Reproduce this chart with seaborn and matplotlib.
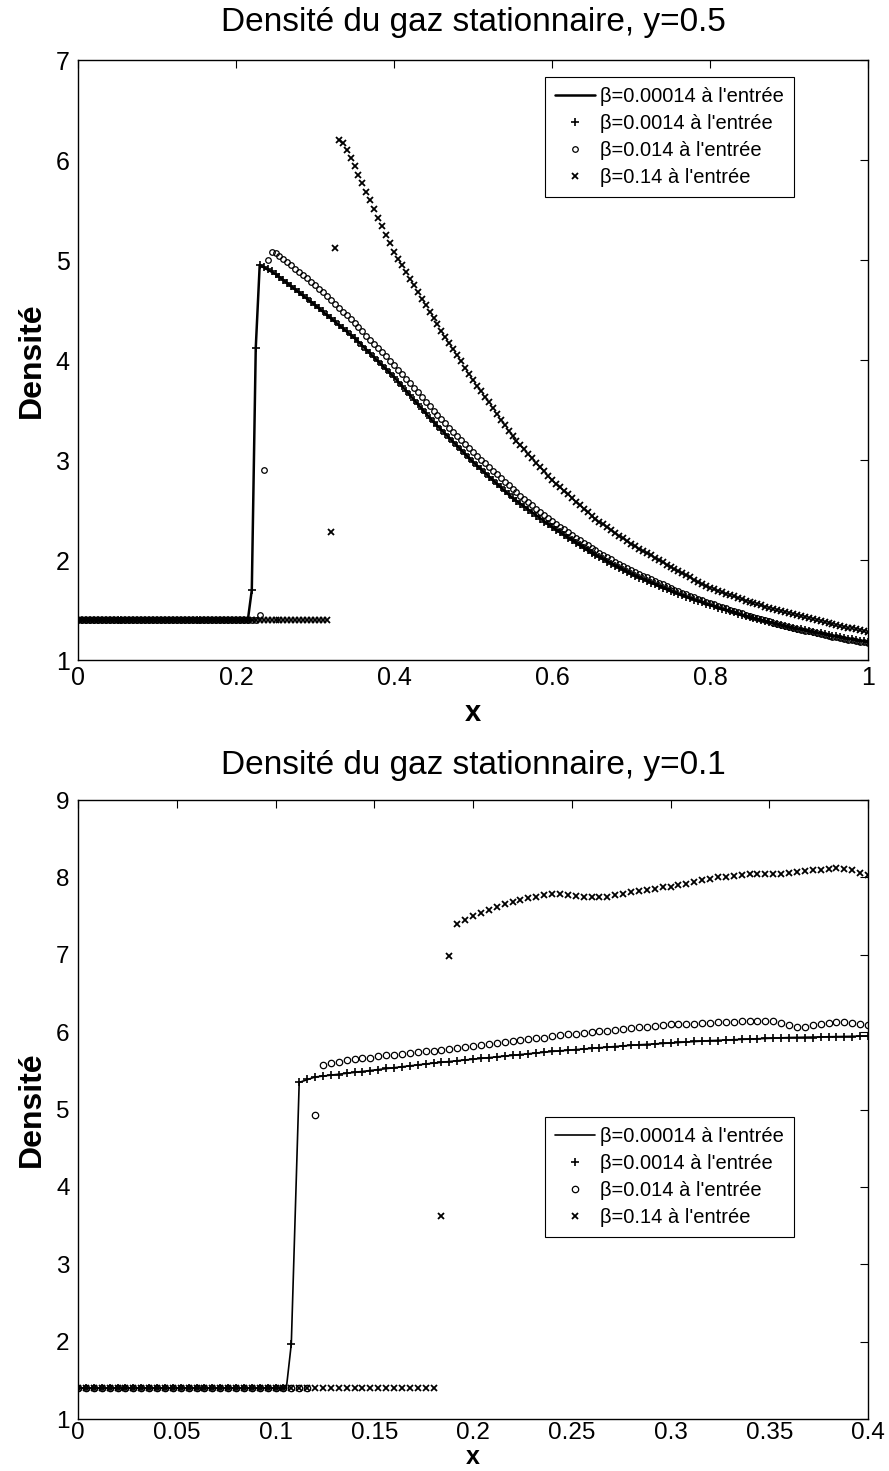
import numpy as np
import pandas as pd
import matplotlib
matplotlib.use("Agg")
import matplotlib.pyplot as plt
import seaborn as sns

# ---------------- data : top panel (y = 0.5) ----------------
DX_TOP = 0.005
x_ticks_top = [0, 0.2, 0.4, 0.6, 0.8, 1.0]
x_ticklabels_top = ["0", "0.2", "0.4", "0.6", "0.8", "1"]
y_ticks_top = [1, 2, 3, 4, 5, 6, 7]

line_top_x = [0.0, 0.215, 0.220, 0.225, 0.230, 0.25, 0.30, 0.35, 0.40, 0.45, 0.50,
              0.55, 0.60, 0.65, 0.70, 0.75, 0.80, 0.85, 0.90, 0.95, 1.00]
line_top_y = [1.40, 1.40, 1.70, 4.12, 4.95, 4.86, 4.55, 4.22, 3.83, 3.38, 2.98,
              2.62, 2.33, 2.07, 1.86, 1.69, 1.55, 1.43, 1.33, 1.25, 1.18]

plus_top = [1.40] * 44 + [1.70, 4.12] + [
    4.95, 4.93, 4.91, 4.89, 4.86, 4.83, 4.80, 4.77, 4.74, 4.71,
    4.68, 4.65, 4.62, 4.58, 4.55, 4.52, 4.49, 4.45, 4.42, 4.39,
    4.35, 4.32, 4.29, 4.25, 4.22, 4.18, 4.14, 4.10, 4.07, 4.03,
    3.99, 3.95, 3.91, 3.87, 3.83, 3.78, 3.74, 3.69, 3.65, 3.60,
    3.56, 3.51, 3.47, 3.42, 3.38, 3.34, 3.30, 3.26, 3.22, 3.18,
    3.14, 3.10, 3.06, 3.02, 2.98, 2.94, 2.91, 2.87, 2.83, 2.80,
    2.76, 2.73, 2.69, 2.66, 2.62, 2.59, 2.56, 2.53, 2.50, 2.47,
    2.44, 2.41, 2.38, 2.36, 2.33, 2.30, 2.28, 2.25, 2.22, 2.20,
    2.17, 2.15, 2.12, 2.10, 2.07, 2.05, 2.03, 2.01, 1.98, 1.96,
    1.94, 1.92, 1.90, 1.88, 1.86, 1.84, 1.82, 1.81, 1.79, 1.77,
    1.76, 1.74, 1.72, 1.71, 1.69, 1.68, 1.66, 1.65, 1.63, 1.62,
    1.60, 1.59, 1.58, 1.56, 1.55, 1.54, 1.52, 1.51, 1.50, 1.49,
    1.48, 1.46, 1.45, 1.44, 1.43, 1.42, 1.41, 1.40, 1.39, 1.38,
    1.37, 1.36, 1.35, 1.34, 1.33, 1.32, 1.31, 1.31, 1.30, 1.29,
    1.28, 1.27, 1.27, 1.26, 1.25, 1.24, 1.24, 1.23, 1.22, 1.21,
    1.21, 1.20, 1.19, 1.19, 1.18]

circ_top = [1.40] * 46 + [1.45, 2.90, 5.00, 5.08, 5.07] + [
    5.04, 5.01, 4.98, 4.95, 4.91, 4.88, 4.85, 4.82, 4.78, 4.75,
    4.71, 4.68, 4.64, 4.60, 4.56, 4.52, 4.48, 4.45, 4.41, 4.37,
    4.33, 4.29, 4.24, 4.20, 4.16, 4.12, 4.08, 4.04, 3.99, 3.95,
    3.90, 3.86, 3.81, 3.77, 3.72, 3.68, 3.63, 3.58, 3.54, 3.49,
    3.45, 3.41, 3.37, 3.32, 3.28, 3.24, 3.20, 3.16, 3.12, 3.08,
    3.04, 3.00, 2.97, 2.93, 2.89, 2.86, 2.82, 2.78, 2.75, 2.71,
    2.68, 2.64, 2.61, 2.58, 2.55, 2.51, 2.48, 2.45, 2.42, 2.39,
    2.36, 2.33, 2.31, 2.28, 2.25, 2.22, 2.20, 2.17, 2.15, 2.12,
    2.10, 2.07, 2.05, 2.03, 2.01, 1.98, 1.96, 1.94, 1.92, 1.90,
    1.88, 1.86, 1.84, 1.83, 1.81, 1.79, 1.77, 1.76, 1.74, 1.72,
    1.70, 1.69, 1.67, 1.66, 1.64, 1.63, 1.61, 1.60, 1.58, 1.57,
    1.56, 1.54, 1.53, 1.52, 1.50, 1.49, 1.48, 1.47, 1.45, 1.44,
    1.43, 1.42, 1.41, 1.40, 1.39, 1.37, 1.36, 1.35, 1.34, 1.33,
    1.32, 1.31, 1.30, 1.29, 1.29, 1.28, 1.27, 1.26, 1.25, 1.24,
    1.23, 1.23, 1.22, 1.21, 1.20, 1.20, 1.19, 1.18, 1.18, 1.17]

cross_top = [1.40] * 64 + [2.28, 5.12, 6.20, 6.17] + [
    6.10, 6.02, 5.94, 5.85, 5.77, 5.68, 5.60, 5.51, 5.42, 5.34,
    5.25, 5.17, 5.08, 5.01, 4.95, 4.88, 4.81, 4.75, 4.68, 4.61,
    4.55, 4.48, 4.42, 4.36, 4.29, 4.23, 4.17, 4.11, 4.05, 3.99,
    3.92, 3.86, 3.80, 3.74, 3.69, 3.63, 3.58, 3.52, 3.46, 3.40,
    3.35, 3.29, 3.24, 3.19, 3.15, 3.11, 3.06, 3.02, 2.97, 2.93,
    2.89, 2.84, 2.80, 2.76, 2.73, 2.69, 2.66, 2.62, 2.58, 2.55,
    2.51, 2.48, 2.44, 2.41, 2.38, 2.36, 2.33, 2.30, 2.27, 2.24,
    2.22, 2.19, 2.16, 2.14, 2.11, 2.09, 2.07, 2.05, 2.02, 2.00,
    1.98, 1.95, 1.93, 1.91, 1.89, 1.87, 1.85, 1.83, 1.80, 1.78,
    1.76, 1.74, 1.72, 1.71, 1.69, 1.68, 1.66, 1.65, 1.64, 1.62,
    1.61, 1.59, 1.58, 1.57, 1.56, 1.55, 1.53, 1.52, 1.51, 1.50,
    1.49, 1.48, 1.47, 1.46, 1.45, 1.44, 1.43, 1.42, 1.41, 1.40,
    1.39, 1.38, 1.37, 1.36, 1.35, 1.34, 1.33, 1.32, 1.32, 1.31,
    1.30, 1.29, 1.28]

# ---------------- data : bottom panel (y = 0.1) ----------------
DX_BOT = 0.004
x_ticks_bot = [0, 0.05, 0.1, 0.15, 0.2, 0.25, 0.3, 0.35, 0.4]
x_ticklabels_bot = ["0", "0.05", "0.1", "0.15", "0.2", "0.25", "0.3", "0.35", "0.4"]
y_ticks_bot = [1, 2, 3, 4, 5, 6, 7, 8, 9]

line_bot_x = [0.0, 0.1055, 0.108, 0.112, 0.12, 0.14, 0.16, 0.18, 0.20, 0.24,
              0.28, 0.32, 0.36, 0.40]
line_bot_y = [1.40, 1.40, 1.97, 5.35, 5.42, 5.48, 5.54, 5.60, 5.65, 5.75,
              5.83, 5.89, 5.93, 5.95]

plus_bot = [1.40] * 27 + [1.97, 5.35] + [
    5.39, 5.42, 5.43, 5.44, 5.45, 5.47, 5.48, 5.49, 5.50, 5.51,
    5.53, 5.54, 5.55, 5.56, 5.57, 5.59, 5.60, 5.61, 5.62, 5.63,
    5.64, 5.65, 5.66, 5.67, 5.68, 5.69, 5.70, 5.71, 5.72, 5.73,
    5.74, 5.75, 5.76, 5.77, 5.77, 5.78, 5.79, 5.80, 5.81, 5.81,
    5.82, 5.83, 5.84, 5.84, 5.85, 5.86, 5.86, 5.87, 5.87, 5.88,
    5.88, 5.89, 5.89, 5.90, 5.90, 5.91, 5.91, 5.91, 5.92, 5.92,
    5.92, 5.93, 5.93, 5.93, 5.93, 5.94, 5.94, 5.94, 5.94, 5.94,
    5.95, 5.95]

circ_bot = [1.40] * 30 + [4.93, 5.57] + [
    5.60, 5.62, 5.64, 5.65, 5.66, 5.67, 5.69, 5.70, 5.71, 5.72,
    5.73, 5.74, 5.75, 5.76, 5.77, 5.78, 5.80, 5.81, 5.82, 5.83,
    5.85, 5.86, 5.87, 5.88, 5.90, 5.91, 5.92, 5.93, 5.95, 5.96,
    5.97, 5.98, 5.99, 6.00, 6.01, 6.02, 6.03, 6.04, 6.05, 6.06,
    6.07, 6.08, 6.09, 6.10, 6.10, 6.11, 6.11, 6.12, 6.12, 6.13,
    6.13, 6.13, 6.14, 6.14, 6.15, 6.15, 6.14, 6.12, 6.09, 6.07,
    6.07, 6.09, 6.11, 6.12, 6.13, 6.13, 6.12, 6.10, 6.09]

cross_bot = [1.40] * 46 + [3.62, 6.98] + [
    7.40, 7.45, 7.50, 7.54, 7.58, 7.62, 7.65, 7.68, 7.71, 7.73,
    7.75, 7.77, 7.78, 7.78, 7.77, 7.76, 7.74, 7.74, 7.74, 7.75,
    7.77, 7.79, 7.81, 7.83, 7.84, 7.85, 7.87, 7.88, 7.90, 7.92,
    7.94, 7.96, 7.98, 8.00, 8.01, 8.02, 8.03, 8.04, 8.04, 8.05,
    8.05, 8.05, 8.06, 8.07, 8.08, 8.09, 8.10, 8.11, 8.12, 8.11,
    8.09, 8.06, 8.03]

labels = ["β=0.00014 à l'entrée", "β=0.0014 à l'entrée",
          "β=0.014 à l'entrée", "β=0.14 à l'entrée"]
titles = ["Densité du gaz stationnaire, y=0.5", "Densité du gaz stationnaire, y=0.1"]
xlabel = "x"
ylabel = "Densité"

# ---------------- style ----------------
sns.set_theme(style="white")
plt.rcParams["font.family"] = ["Liberation Sans", "DejaVu Sans"]
plt.rcParams["axes.edgecolor"] = "black"
plt.rcParams["axes.linewidth"] = 1.0
plt.rcParams["xtick.color"] = "black"
plt.rcParams["ytick.color"] = "black"
plt.rcParams["text.color"] = "black"
plt.rcParams["axes.labelcolor"] = "black"

W, H = 889, 1471
fig = plt.figure(figsize=(W / 100, H / 100), dpi=100)
fig.patch.set_facecolor("white")

# axes boxes in pixels: (left, top, right, bottom)
boxes = [(78, 60, 868, 660), (78, 800, 868, 1419)]


def series_df(vals, dx):
    return pd.DataFrame({"x": np.arange(len(vals)) * dx, "d": vals})


def draw_panel(ax, box, lx, ly, plus, circ, cross, dx, xlim, ylim, xt, xtl, yt,
               title, title_y, leg_xy, lw, msz, tick_size, xpad, xl_size):
    l, t, r, b = box
    hpx = b - t
    sns.lineplot(x=lx, y=ly, ax=ax, color="black", linewidth=lw,
                 label=labels[0], errorbar=None)
    d = series_df(plus, dx)
    sns.lineplot(data=d, x="x", y="d", ax=ax, linestyle="none", marker="+",
                 markersize=msz + 1.2, markeredgewidth=1.2, color="black",
                 markeredgecolor="black", label=labels[1], errorbar=None)
    d = series_df(circ, dx)
    sns.lineplot(data=d, x="x", y="d", ax=ax, linestyle="none", marker="o",
                 markersize=msz, markerfacecolor="none", markeredgecolor="black",
                 markeredgewidth=0.9, color="black", label=labels[2], errorbar=None)
    d = series_df(cross, dx)
    sns.lineplot(data=d, x="x", y="d", ax=ax, linestyle="none", marker="x",
                 markersize=msz, markeredgewidth=1.3, color="black",
                 markeredgecolor="black", label=labels[3], errorbar=None)
    ax.set_xlim(*xlim)
    ax.set_ylim(*ylim)
    ax.set_xticks(xt)
    ax.set_xticklabels(xtl)
    ax.set_yticks(yt)
    ax.set_yticklabels([str(v) for v in yt])
    ax.tick_params(direction="in", top=True, right=True, length=6, width=0.8,
                   labelsize=tick_size)
    ax.tick_params(axis="x", pad=xpad)
    ax.tick_params(axis="y", pad=6)
    for s in ax.spines.values():
        s.set_visible(True)
        s.set_color("black")
        s.set_linewidth(1.0)
    ax.grid(False)
    ax.set_facecolor("white")
    ax.text(0.5, 1 + (t - title_y) / hpx, title, transform=ax.transAxes,
            ha="center", va="center", fontsize=24)
    ax.set_xlabel(xlabel, fontsize=xl_size, fontweight="bold")
    ax.set_ylabel(ylabel, fontsize=23, fontweight="bold")
    leg = ax.legend(loc="upper left", bbox_to_anchor=leg_xy, frameon=True,
                    fancybox=False, edgecolor="black", framealpha=1, fontsize=14.5,
                    handlelength=2.0, numpoints=1, labelspacing=0.4,
                    borderpad=0.5, handletextpad=0.25, borderaxespad=0)
    leg.get_frame().set_linewidth(0.8)
    return ax


ax1 = fig.add_axes([boxes[0][0] / W, 1 - boxes[0][3] / H,
                    (boxes[0][2] - boxes[0][0]) / W, (boxes[0][3] - boxes[0][1]) / H])
draw_panel(ax1, boxes[0], line_top_x, line_top_y, plus_top, circ_top, cross_top,
           DX_TOP, (0, 1), (1, 7), x_ticks_top, x_ticklabels_top, y_ticks_top,
           titles[0], 22, ((545 - 78) / 790, 1 - (77 - 60) / 600), 1.8, 4.0, 18, 4, 21)
ax1.xaxis.set_label_coords(0.5, -(713 - 660) / 600)
ax1.xaxis.label.set_va("center")
ax1.yaxis.set_label_coords(-(78 - 32) / 790, 0.5)
ax1.yaxis.label.set_va("center")

ax2 = fig.add_axes([boxes[1][0] / W, 1 - boxes[1][3] / H,
                    (boxes[1][2] - boxes[1][0]) / W, (boxes[1][3] - boxes[1][1]) / H])
draw_panel(ax2, boxes[1], line_bot_x, line_bot_y, plus_bot, circ_bot, cross_bot,
           DX_BOT, (0, 0.4), (1, 9), x_ticks_bot, x_ticklabels_bot, y_ticks_bot,
           titles[1], 765, ((545 - 78) / 790, 1 - (1117 - 800) / 619), 1.2, 4.6, 17.5, 2, 18)
ax2.xaxis.set_label_coords(0.5, -(1469 - 1419) / 619)
ax2.xaxis.label.set_va("bottom")
ax2.yaxis.set_label_coords(-(78 - 32) / 790, 0.5)
ax2.yaxis.label.set_va("center")

fig.savefig("out.png", dpi=100, facecolor="white")
